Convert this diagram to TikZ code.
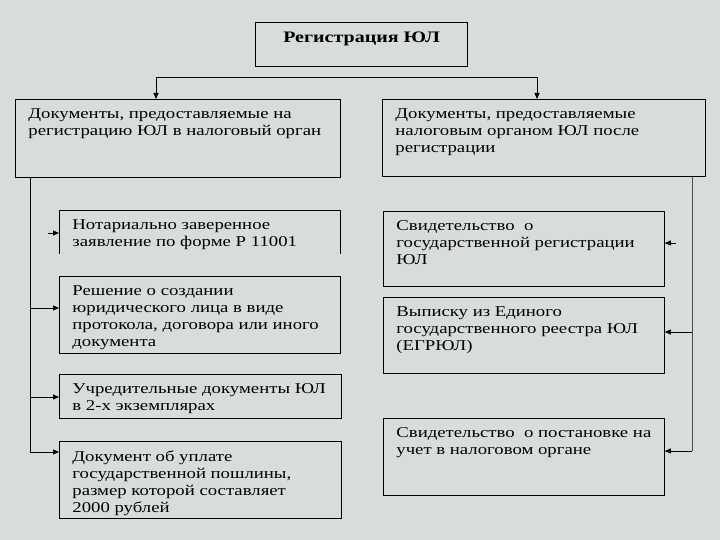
\documentclass[tikz,border=0pt]{standalone}
\usepackage{fontspec}
\setmainfont[FakeStretch=1.25]{Liberation Serif}
\usetikzlibrary{arrows.meta,calc,positioning}
\definecolor{slide}{RGB}{216,220,218}
\newcommand{\cardtext}[3]{\parbox[c][#2][t]{#1}{#3}}

\begin{document}
\begin{tikzpicture}[x=1pt,y=-1pt,
  box/.style={draw,line width=0.8pt,anchor=north west,inner xsep=13pt,inner ysep=9pt,
    font=\fontsize{15}{17}\selectfont,align=left},
  open/.style={box,draw=none},
  feed/.style={line width=0.8pt,-{Triangle[length=6pt,width=5pt]}},
  trunk/.style={line width=0.8pt}]
\fill[slide] (0,0) rectangle (720,540);
\useasboundingbox (0,0) rectangle (720,540);
% head
\node[box,line width=1.3pt] (T) at (255,22) {\cardtext{186pt}{26pt}{\centering\fontsize{16}{17}\selectfont\textbf{Регистрация ЮЛ}}};
\node[box] (A) at (15,99) {\cardtext{299pt}{60pt}{Документы, предоставляемые на\\регистрацию ЮЛ в налоговый орган}};
\node[box] (B) at (382,99) {\cardtext{297pt}{59pt}{Документы, предоставляемые\\налоговым органом ЮЛ после\\регистрации}};
% left column
\node[open] (L1) at (59,210) {\cardtext{255pt}{25pt}{Нотариально заверенное\\заявление по форме Р 11001}};
\draw[line width=0.8pt] (L1.south west) -- (L1.north west) -- (L1.north east) -- (L1.south east);
\node[box] (L2) at (59,276) {\cardtext{255pt}{59pt}{Решение о создании\\юридического лица в виде\\протокола, договора или иного\\документа}};
\node[box] (L3) at (59,374) {\cardtext{256pt}{26pt}{Учредительные документы ЮЛ\\в 2-х экземплярах}};
\node[box] (L4) at (59,441) {\cardtext{256pt}{59pt}{Документ об уплате\\государственной пошлины,\\размер которой составляет\\2000 рублей}};
% right column
\node[box] (R1) at (383,211) {\cardtext{255pt}{57pt}{Свидетельство~ о\\государственной регистрации\\ЮЛ}};
\node[box] (R2) at (383,297) {\cardtext{255pt}{58pt}{Выписку из Единого\\государственного реестра ЮЛ\\(ЕГРЮЛ)}};
\node[box] (R3) at (383,418) {\cardtext{255pt}{59pt}{Свидетельство~ о постановке на\\учет в налоговом органе}};
% connectors
\coordinate (fork1) at (156,77);
\coordinate (fork2) at (537,77);
\draw[trunk] (fork1) -- (fork2);
\draw[feed] (fork1) -- (fork1 |- A.north);
\draw[feed] (fork2) -- (fork2 |- B.north);
\coordinate (lt) at (30,177);
\coordinate (lb) at (30,452);
\coordinate (rt) at (692,177);
\coordinate (rb) at (692,451);
\draw[trunk] (lt) -- (lb);
\draw[trunk,gray!60!black,line width=0.6pt] (rt) -- (rb);
\coordinate (l1) at (48,233);
\coordinate (l2) at (30,308);
\coordinate (l3) at (30,397);
\draw[feed] (l1) -- (l1 -| L1.west);
\draw[feed] (l2) -- (l2 -| L2.west);
\draw[feed] (l3) -- (l3 -| L3.west);
\draw[feed] (lb) -- (lb -| L4.west);
\coordinate (r1) at (676,243);
\coordinate (r2) at (692,332);
\draw[feed] (r1) -- (r1 -| R1.east);
\draw[feed] (r2) -- (r2 -| R2.east);
\draw[feed] (rb) -- (rb -| R3.east);
\end{tikzpicture}
\end{document}
